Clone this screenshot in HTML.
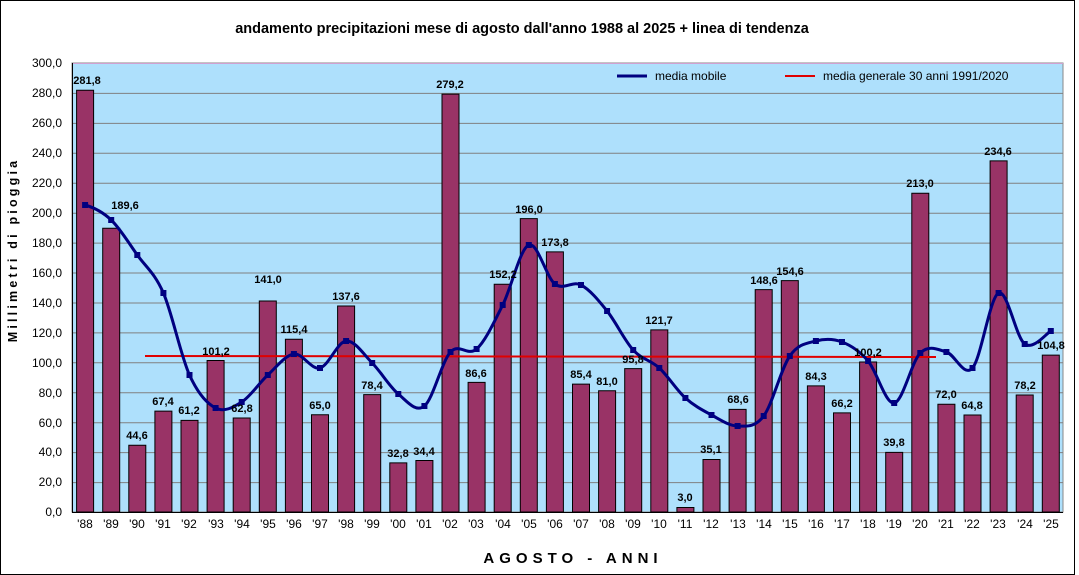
<!DOCTYPE html>
<html><head><meta charset="utf-8"><style>
body{margin:0;background:#fff}
svg{display:block;font-family:"Liberation Sans",Arial,sans-serif}
</style></head><body>
<svg width="1079" height="575" viewBox="0 0 1079 575">
<rect x="0.5" y="0.5" width="1074" height="574" fill="#fff" stroke="#000"/>
<text x="522" y="33" text-anchor="middle" font-size="14.5" font-weight="bold">andamento precipitazioni mese di agosto dall'anno 1988 al 2025 + linea di tendenza</text>
<rect x="72" y="63" width="991" height="449" fill="#aee0fc" stroke="#888" stroke-width="1"/>
<g stroke="#808080" stroke-width="1">
<line x1="72" x2="1063" y1="63.5" y2="63.5" stroke="#d0a0d0"/>
<line x1="72" x2="1063" y1="93.4" y2="93.4"/><line x1="72" x2="1063" y1="123.4" y2="123.4"/>
<line x1="72" x2="1063" y1="153.3" y2="153.3"/><line x1="72" x2="1063" y1="183.2" y2="183.2"/>
<line x1="72" x2="1063" y1="213.2" y2="213.2"/><line x1="72" x2="1063" y1="243.1" y2="243.1"/>
<line x1="72" x2="1063" y1="273.0" y2="273.0"/><line x1="72" x2="1063" y1="303.0" y2="303.0"/>
<line x1="72" x2="1063" y1="332.9" y2="332.9"/><line x1="72" x2="1063" y1="362.8" y2="362.8"/>
<line x1="72" x2="1063" y1="392.8" y2="392.8"/><line x1="72" x2="1063" y1="422.7" y2="422.7"/>
<line x1="72" x2="1063" y1="452.6" y2="452.6"/><line x1="72" x2="1063" y1="482.6" y2="482.6"/>
</g>
<g font-size="12" text-anchor="end">
<text x="62" y="67">300,0</text><text x="62" y="97">280,0</text><text x="62" y="127">260,0</text>
<text x="62" y="157">240,0</text><text x="62" y="187">220,0</text><text x="62" y="217">200,0</text>
<text x="62" y="247">180,0</text><text x="62" y="277">160,0</text><text x="62" y="307">140,0</text>
<text x="62" y="337">120,0</text><text x="62" y="367">100,0</text><text x="62" y="397">80,0</text>
<text x="62" y="427">60,0</text><text x="62" y="456">40,0</text><text x="62" y="486">20,0</text>
<text x="62" y="516">0,0</text>
</g>
<text transform="translate(17,250) rotate(-90)" text-anchor="middle" font-size="12.5" font-weight="bold" letter-spacing="3.2">Millimetri di pioggia</text>
<text x="573" y="563" text-anchor="middle" font-size="15" font-weight="bold" letter-spacing="5">AGOSTO - ANNI</text>
<g transform="translate(0,512) scale(1,-1.4967)" fill="#993366" stroke="#000">
<rect vector-effect="non-scaling-stroke" x="76.6" y="0" width="17" height="281.8"/>
<rect vector-effect="non-scaling-stroke" x="102.7" y="0" width="17" height="189.6"/>
<rect vector-effect="non-scaling-stroke" x="128.8" y="0" width="17" height="44.6"/>
<rect vector-effect="non-scaling-stroke" x="154.9" y="0" width="17" height="67.4"/>
<rect vector-effect="non-scaling-stroke" x="181.0" y="0" width="17" height="61.2"/>
<rect vector-effect="non-scaling-stroke" x="207.1" y="0" width="17" height="101.2"/>
<rect vector-effect="non-scaling-stroke" x="233.2" y="0" width="17" height="62.8"/>
<rect vector-effect="non-scaling-stroke" x="259.3" y="0" width="17" height="141.0"/>
<rect vector-effect="non-scaling-stroke" x="285.4" y="0" width="17" height="115.4"/>
<rect vector-effect="non-scaling-stroke" x="311.5" y="0" width="17" height="65.0"/>
<rect vector-effect="non-scaling-stroke" x="337.6" y="0" width="17" height="137.6"/>
<rect vector-effect="non-scaling-stroke" x="363.7" y="0" width="17" height="78.4"/>
<rect vector-effect="non-scaling-stroke" x="389.8" y="0" width="17" height="32.8"/>
<rect vector-effect="non-scaling-stroke" x="415.9" y="0" width="17" height="34.4"/>
<rect vector-effect="non-scaling-stroke" x="442.0" y="0" width="17" height="279.2"/>
<rect vector-effect="non-scaling-stroke" x="468.1" y="0" width="17" height="86.6"/>
<rect vector-effect="non-scaling-stroke" x="494.2" y="0" width="17" height="152.2"/>
<rect vector-effect="non-scaling-stroke" x="520.3" y="0" width="17" height="196.0"/>
<rect vector-effect="non-scaling-stroke" x="546.4" y="0" width="17" height="173.8"/>
<rect vector-effect="non-scaling-stroke" x="572.5" y="0" width="17" height="85.4"/>
<rect vector-effect="non-scaling-stroke" x="598.6" y="0" width="17" height="81.0"/>
<rect vector-effect="non-scaling-stroke" x="624.7" y="0" width="17" height="95.8"/>
<rect vector-effect="non-scaling-stroke" x="650.8" y="0" width="17" height="121.7"/>
<rect vector-effect="non-scaling-stroke" x="676.9" y="0" width="17" height="3.0"/>
<rect vector-effect="non-scaling-stroke" x="703.0" y="0" width="17" height="35.1"/>
<rect vector-effect="non-scaling-stroke" x="729.1" y="0" width="17" height="68.6"/>
<rect vector-effect="non-scaling-stroke" x="755.2" y="0" width="17" height="148.6"/>
<rect vector-effect="non-scaling-stroke" x="781.3" y="0" width="17" height="154.6"/>
<rect vector-effect="non-scaling-stroke" x="807.4" y="0" width="17" height="84.3"/>
<rect vector-effect="non-scaling-stroke" x="833.5" y="0" width="17" height="66.2"/>
<rect vector-effect="non-scaling-stroke" x="859.6" y="0" width="17" height="100.2"/>
<rect vector-effect="non-scaling-stroke" x="885.7" y="0" width="17" height="39.8"/>
<rect vector-effect="non-scaling-stroke" x="911.8" y="0" width="17" height="213.0"/>
<rect vector-effect="non-scaling-stroke" x="937.9" y="0" width="17" height="72.0"/>
<rect vector-effect="non-scaling-stroke" x="964.0" y="0" width="17" height="64.8"/>
<rect vector-effect="non-scaling-stroke" x="990.1" y="0" width="17" height="234.6"/>
<rect vector-effect="non-scaling-stroke" x="1016.2" y="0" width="17" height="78.2"/>
<rect vector-effect="non-scaling-stroke" x="1042.3" y="0" width="17" height="104.8"/>
</g>
<line x1="145" y1="356" x2="936" y2="357" stroke="#e00000" stroke-width="2"/>
<path fill="none" stroke="#000080" stroke-width="3" stroke-linejoin="round" d="M85.1,205
C93.8,207.5 102.5,211.7 111.2,220
C119.9,228.3 128.6,242.8 137.3,255
C146,267.2 154.7,273 163.4,293
C172.1,313 180.8,355.8 189.5,375
C198.2,394.2 206.9,403.5 215.6,408
C224.3,412.5 233,407.5 241.7,402
C250.4,396.5 259.1,383 267.8,375
C276.5,367 285.2,355.2 293.9,354
C302.6,352.8 311.3,370.2 320,368
C328.7,365.8 337.4,341.8 346.1,341
C354.8,340.2 363.5,354.2 372.2,363
C380.9,371.8 389.6,386.8 398.3,394
C407,401.2 415.7,413 424.4,406
C433.1,399 441.8,361.5 450.5,352
C459.2,342.5 467.9,356.8 476.6,349
C485.3,341.2 494,322.3 502.7,305
C511.4,287.7 520.1,248.5 528.8,245
C537.5,241.5 546.2,277.3 554.9,284
C563.6,290.7 572.3,280.5 581,285
C589.7,289.5 598.4,300.2 607.1,311
C615.8,321.8 624.5,340.5 633.2,350
C641.9,359.5 650.6,360 659.3,368
C668,376 676.7,390.2 685.4,398
C694.1,405.8 702.8,410.3 711.5,415
C720.2,419.7 728.9,425.8 737.6,426
C746.3,426.2 755,427.7 763.7,416
C772.4,404.3 781.1,368.5 789.8,356
C798.5,343.5 807.2,343.3 815.9,341
C824.6,338.7 833.3,338.7 842,342
C850.7,345.3 859.4,350.8 868.1,361
C876.8,371.2 885.5,404.3 894.2,403
C902.9,401.7 911.6,361.5 920.3,353
C929,344.5 937.7,349.5 946.4,352
C955.1,354.5 963.8,377.8 972.5,368
C981.2,358.2 989.9,297 998.6,293
C1007.3,289 1016,337.7 1024.7,344
C1033.4,350.3 1046.5,333.2 1050.8,331"/>
<g fill="#000080">
<rect x="82.1" y="202" width="6" height="6"/><rect x="108.2" y="217" width="6" height="6"/>
<rect x="134.3" y="252" width="6" height="6"/><rect x="160.4" y="290" width="6" height="6"/>
<rect x="186.5" y="372" width="6" height="6"/><rect x="212.6" y="405" width="6" height="6"/>
<rect x="238.7" y="399" width="6" height="6"/><rect x="264.8" y="372" width="6" height="6"/>
<rect x="290.9" y="351" width="6" height="6"/><rect x="317.0" y="365" width="6" height="6"/>
<rect x="343.1" y="338" width="6" height="6"/><rect x="369.2" y="360" width="6" height="6"/>
<rect x="395.3" y="391" width="6" height="6"/><rect x="421.4" y="403" width="6" height="6"/>
<rect x="447.5" y="349" width="6" height="6"/><rect x="473.6" y="346" width="6" height="6"/>
<rect x="499.7" y="302" width="6" height="6"/><rect x="525.8" y="242" width="6" height="6"/>
<rect x="551.9" y="281" width="6" height="6"/><rect x="578.0" y="282" width="6" height="6"/>
<rect x="604.1" y="308" width="6" height="6"/><rect x="630.2" y="347" width="6" height="6"/>
<rect x="656.3" y="365" width="6" height="6"/><rect x="682.4" y="395" width="6" height="6"/>
<rect x="708.5" y="412" width="6" height="6"/><rect x="734.6" y="423" width="6" height="6"/>
<rect x="760.7" y="413" width="6" height="6"/><rect x="786.8" y="353" width="6" height="6"/>
<rect x="812.9" y="338" width="6" height="6"/><rect x="839.0" y="339" width="6" height="6"/>
<rect x="865.1" y="358" width="6" height="6"/><rect x="891.2" y="400" width="6" height="6"/>
<rect x="917.3" y="350" width="6" height="6"/><rect x="943.4" y="349" width="6" height="6"/>
<rect x="969.5" y="365" width="6" height="6"/><rect x="995.6" y="290" width="6" height="6"/>
<rect x="1021.7" y="341" width="6" height="6"/><rect x="1047.8" y="328" width="6" height="6"/>
</g>
<g font-size="11" font-weight="bold" text-anchor="middle">
<text x="87" y="84">281,8</text><text x="125" y="209">189,6</text><text x="137" y="439">44,6</text>
<text x="163" y="405">67,4</text><text x="189" y="414">61,2</text><text x="216" y="355">101,2</text>
<text x="242" y="412">62,8</text><text x="268" y="283">141,0</text><text x="294" y="333">115,4</text>
<text x="320" y="409">65,0</text><text x="346" y="300">137,6</text><text x="372" y="389">78,4</text>
<text x="398" y="457">32,8</text><text x="424" y="455">34,4</text><text x="450" y="88">279,2</text>
<text x="476" y="377">86,6</text><text x="503" y="278">152,2</text><text x="529" y="213">196,0</text>
<text x="555" y="246">173,8</text><text x="581" y="378">85,4</text><text x="607" y="385">81,0</text>
<text x="633" y="363">95,8</text><text x="659" y="324">121,7</text><text x="685" y="501">3,0</text>
<text x="711" y="453">35,1</text><text x="738" y="403">68,6</text><text x="764" y="284">148,6</text>
<text x="790" y="275">154,6</text><text x="816" y="380">84,3</text><text x="842" y="407">66,2</text>
<text x="868" y="356">100,2</text><text x="894" y="446">39,8</text><text x="920" y="187">213,0</text>
<text x="946" y="398">72,0</text><text x="972" y="409">64,8</text><text x="998" y="155">234,6</text>
<text x="1025" y="389">78,2</text><text x="1051" y="349">104,8</text>
</g>
<g stroke="#000"><line x1="72" y1="512.5" x2="1063" y2="512.5"/><line x1="72.5" y1="63" x2="72.5" y2="512"/></g>
<g font-size="12" text-anchor="middle">
<text x="85" y="528">'88</text><text x="111" y="528">'89</text><text x="137" y="528">'90</text><text x="163" y="528">'91</text>
<text x="189" y="528">'92</text><text x="216" y="528">'93</text><text x="242" y="528">'94</text><text x="268" y="528">'95</text>
<text x="294" y="528">'96</text><text x="320" y="528">'97</text><text x="346" y="528">'98</text><text x="372" y="528">'99</text>
<text x="398" y="528">'00</text><text x="424" y="528">'01</text><text x="450" y="528">'02</text><text x="476" y="528">'03</text>
<text x="503" y="528">'04</text><text x="529" y="528">'05</text><text x="555" y="528">'06</text><text x="581" y="528">'07</text>
<text x="607" y="528">'08</text><text x="633" y="528">'09</text><text x="659" y="528">'10</text><text x="685" y="528">'11</text>
<text x="711" y="528">'12</text><text x="738" y="528">'13</text><text x="764" y="528">'14</text><text x="790" y="528">'15</text>
<text x="816" y="528">'16</text><text x="842" y="528">'17</text><text x="868" y="528">'18</text><text x="894" y="528">'19</text>
<text x="920" y="528">'20</text><text x="946" y="528">'21</text><text x="972" y="528">'22</text><text x="998" y="528">'23</text>
<text x="1025" y="528">'24</text><text x="1051" y="528">'25</text>
</g>
<line x1="617" y1="76" x2="647" y2="76" stroke="#000080" stroke-width="3"/>
<text x="655" y="80" font-size="12">media mobile</text>
<line x1="785" y1="76" x2="815" y2="76" stroke="#e00000" stroke-width="2"/>
<text x="823" y="80" font-size="12">media generale 30 anni 1991/2020</text>
</svg>
</body></html>
